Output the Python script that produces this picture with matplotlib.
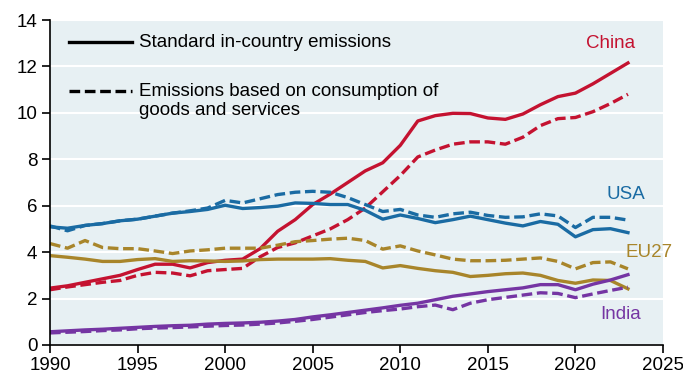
import matplotlib
matplotlib.use('Agg')
import matplotlib.pyplot as plt

plt.rcParams['font.family'] = ['Liberation Sans', 'DejaVu Sans']

years = list(range(1990, 2024))

china_std = [2.45, 2.55, 2.7, 2.85, 3.0, 3.25, 3.48, 3.48, 3.32, 3.55,
             3.65, 3.7, 4.15, 4.9, 5.4, 6.05, 6.5, 7.0, 7.5, 7.85,
             8.6, 9.65, 9.88, 9.98, 9.97, 9.78, 9.72, 9.95, 10.35, 10.7,
             10.85, 11.25, 11.7, 12.15]
china_cons = [2.38, 2.5, 2.6, 2.7, 2.78, 3.0, 3.13, 3.1, 2.98, 3.2,
              3.25, 3.3, 3.8, 4.2, 4.4, 4.7, 5.0, 5.4, 5.9, 6.6,
              7.3, 8.1, 8.4, 8.65, 8.75, 8.75, 8.65, 8.95, 9.45, 9.75,
              9.8, 10.05, 10.4, 10.8]
usa_std = [5.09, 5.03, 5.15, 5.23, 5.35, 5.42, 5.55, 5.68, 5.75, 5.84,
           6.02, 5.88, 5.92, 5.98, 6.12, 6.1, 6.05, 6.05, 5.8, 5.42,
           5.6, 5.45, 5.27, 5.4, 5.55, 5.4, 5.25, 5.13, 5.32, 5.2,
           4.66, 4.97, 5.01, 4.84]
usa_cons = [5.13, 4.92, 5.15, 5.23, 5.35, 5.42, 5.55, 5.68, 5.78, 5.9,
            6.23, 6.12, 6.3, 6.48, 6.58, 6.62, 6.58, 6.35, 6.05, 5.75,
            5.84, 5.6, 5.5, 5.65, 5.72, 5.58, 5.5, 5.52, 5.65, 5.56,
            5.06, 5.5, 5.5, 5.38]
eu_std = [3.85, 3.78, 3.7, 3.6, 3.6, 3.68, 3.72, 3.6, 3.63, 3.62,
          3.6, 3.62, 3.68, 3.7, 3.7, 3.7, 3.72, 3.65, 3.6, 3.32,
          3.42, 3.3, 3.2, 3.13, 2.95, 3.0, 3.07, 3.1, 3.0, 2.78,
          2.66, 2.8, 2.78, 2.42]
eu_cons = [4.37, 4.17, 4.5, 4.2, 4.15, 4.15, 4.05, 3.94, 4.05, 4.1,
           4.17, 4.17, 4.17, 4.3, 4.45, 4.5, 4.56, 4.6, 4.5, 4.13,
           4.27, 4.05, 3.88, 3.7, 3.63, 3.63, 3.65, 3.7, 3.75, 3.6,
           3.28, 3.55, 3.58, 3.28]
india_std = [0.57, 0.61, 0.65, 0.68, 0.72, 0.76, 0.8, 0.83, 0.85, 0.9,
             0.93, 0.95, 0.98, 1.03, 1.1, 1.21, 1.3, 1.4, 1.5, 1.6,
             1.71, 1.8, 1.95, 2.1, 2.2, 2.3, 2.38, 2.46, 2.6, 2.6,
             2.38, 2.62, 2.8, 3.03]
india_cons = [0.52, 0.55, 0.58, 0.62, 0.65, 0.7, 0.73, 0.75, 0.78, 0.81,
              0.84, 0.86, 0.9, 0.95, 1.02, 1.1, 1.2, 1.3, 1.4, 1.48,
              1.55, 1.65, 1.72, 1.52, 1.8, 1.95, 2.05, 2.15, 2.25, 2.22,
              2.04, 2.2, 2.35, 2.49]

series = [
    ('China', china_std, china_cons, '#c41230'),
    ('USA', usa_std, usa_cons, '#1a6ba3'),
    ('EU27', eu_std, eu_cons, '#a8852a'),
    ('India', india_std, india_cons, '#7535a3'),
]
label_pos = {'China': (2022.0, 13.0), 'USA': (2022.9, 6.5),
             'EU27': (2024.2, 3.97), 'India': (2022.6, 1.32)}

fs = 13.5
fig = plt.figure(figsize=(6.83, 3.81), dpi=100)
ax = fig.add_axes([0.0732, 0.0945, 0.8975, 0.853])
ax.set_facecolor('#e7f0f3')

lw = 2.4
dash = (3.2, 1.4)
for name, std, cons, col in series:
    ax.plot(years, cons, color=col, lw=lw, dashes=dash)
    ax.plot(years, std, color=col, lw=lw)
    x, y = label_pos[name]
    ax.text(x, y, name, color=col, fontsize=fs, ha='center', va='center')

ax.set_xlim(1990, 2025)
ax.set_ylim(0, 14)
ax.set_xticks(range(1990, 2026, 5))
ax.set_yticks(range(0, 15, 2))
ax.tick_params(labelsize=fs, length=6, width=1.2, direction='out', pad=3)
ax.grid(axis='y', color='white', lw=1.5)
ax.set_axisbelow(True)
for s in ['top', 'right']:
    ax.spines[s].set_visible(False)
for s in ['left', 'bottom']:
    ax.spines[s].set_linewidth(1.2)

# legend drawn by hand like the original
ax.plot([1991.1, 1994.7], [13.05, 13.05], color='black', lw=lw)
ax.text(1995.1, 13.05, 'Standard in-country emissions', fontsize=fs, va='center')
ax.plot([1991.1, 1994.7], [10.95, 10.95], color='black', lw=lw, dashes=dash)
ax.text(1995.1, 10.52, 'Emissions based on consumption of\ngoods and services',
        fontsize=fs, va='center', linespacing=1.15)

fig.savefig('out.png', dpi=100)
